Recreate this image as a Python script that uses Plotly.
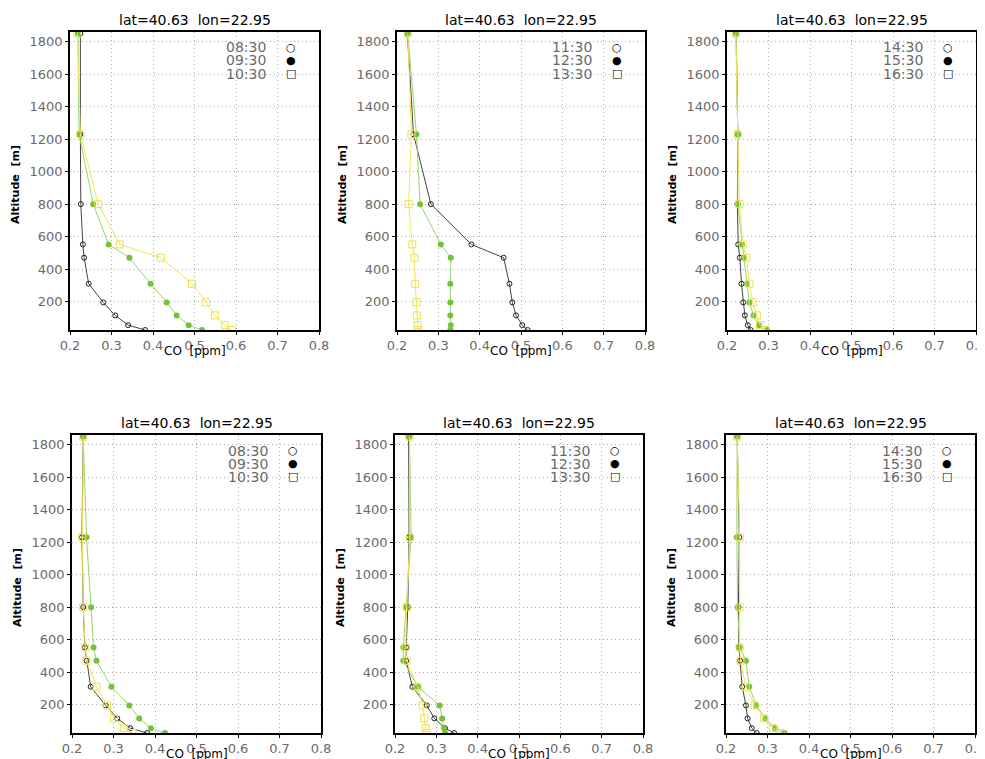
import plotly.graph_objects as go

# Model levels (m)
altitude = [25, 55, 115, 195, 310, 470, 552, 800, 1230, 1850]

# Time labels per column
times_col1 = ["08:30", "09:30", "10:30"]
times_col2 = ["11:30", "12:30", "13:30"]
times_col3 = ["14:30", "15:30", "16:30"]

# CO [ppm] - top row
tl_0830 = [0.381, 0.340, 0.309, 0.280, 0.245, 0.234, 0.231, 0.226, 0.225, 0.225]
tl_0930 = [0.518, 0.486, 0.457, 0.433, 0.394, 0.343, 0.293, 0.256, 0.222, 0.219]
tl_1030 = [0.590, 0.573, 0.549, 0.528, 0.494, 0.419, 0.320, 0.268, 0.225, 0.218]

tm_1130 = [0.516, 0.503, 0.488, 0.479, 0.472, 0.458, 0.380, 0.282, 0.240, 0.225]
tm_1230 = [0.329, 0.330, 0.329, 0.329, 0.329, 0.330, 0.306, 0.256, 0.247, 0.226]
tm_1330 = [0.251, 0.250, 0.248, 0.247, 0.244, 0.242, 0.237, 0.228, 0.235, 0.226]

tr_1430 = [0.257, 0.250, 0.243, 0.239, 0.235, 0.231, 0.227, 0.225, 0.226, 0.222]
tr_1530 = [0.297, 0.277, 0.264, 0.254, 0.248, 0.241, 0.236, 0.226, 0.226, 0.222]
tr_1630 = [0.293, 0.280, 0.272, 0.262, 0.254, 0.247, 0.238, 0.230, 0.226, 0.221]

# CO [ppm] - bottom row
bl_0830 = [0.381, 0.340, 0.309, 0.281, 0.245, 0.235, 0.231, 0.227, 0.224, 0.227]
bl_0930 = [0.424, 0.390, 0.362, 0.338, 0.295, 0.259, 0.252, 0.246, 0.235, 0.227]
bl_1030 = [0.346, 0.325, 0.301, 0.285, 0.259, 0.235, 0.232, 0.227, 0.225, 0.227]

bm_1130 = [0.343, 0.321, 0.295, 0.277, 0.242, 0.227, 0.227, 0.231, 0.234, 0.233]
bm_1230 = [0.321, 0.319, 0.314, 0.308, 0.255, 0.220, 0.220, 0.227, 0.239, 0.235]
bm_1330 = [0.276, 0.274, 0.271, 0.267, 0.255, 0.228, 0.226, 0.228, 0.236, 0.235]

br_1430 = [0.274, 0.262, 0.252, 0.248, 0.239, 0.234, 0.231, 0.230, 0.232, 0.227]
br_1530 = [0.341, 0.318, 0.295, 0.273, 0.256, 0.248, 0.233, 0.228, 0.226, 0.227]
br_1630 = [0.332, 0.313, 0.292, 0.269, 0.248, 0.235, 0.233, 0.233, 0.233, 0.227]

x_ticks = [0.2, 0.3, 0.4, 0.5, 0.6, 0.7, 0.8]
y_ticks = [200, 400, 600, 800, 1000, 1200, 1400, 1600, 1800]
title_text = "lat=40.63  lon=22.95"

# The page body has an 8px default margin; the figure is sized to fit the window.
OFF = 8
W, H = 985 - OFF, 759 - OFF
panels = [
    # (series, labels, x px range, y px range (top, bottom)) in window pixels
    ((tl_0830, tl_0930, tl_1030), times_col1, (70, 319), (32, 330)),
    ((tm_1130, tm_1230, tm_1330), times_col2, (397, 645), (32, 330)),
    ((tr_1430, tr_1530, tr_1630), times_col3, (727, 976), (32, 330)),
    ((bl_0830, bl_0930, bl_1030), times_col1, (72, 321), (435, 733)),
    ((bm_1130, bm_1230, bm_1330), times_col2, (395, 643), (435, 733)),
    ((br_1430, br_1530, br_1630), times_col3, (726, 975), (435, 733)),
]

styles = [
    dict(line=dict(color="#444444", width=1),
         marker=dict(symbol="circle-open", size=5, color="#222222", line=dict(width=1))),
    dict(line=dict(color="#98d46c", width=1),
         marker=dict(symbol="circle", size=6, color="#72c23c")),
    dict(line=dict(color="#f3e55a", width=1),
         marker=dict(symbol="square-open", size=7, color="#efe04a", line=dict(width=1))),
]
legend_syms = ["○", "●", "□"]


def px(x):
    return (x - OFF) / W


def py(y):
    return 1 - (y - OFF) / H


fig = go.Figure()
annotations = []
layout_axes = {}

for i, (series, labels, (x0, x1), (y0, y1)) in enumerate(panels):
    n = i + 1
    xa = "x" if n == 1 else f"x{n}"
    ya = "y" if n == 1 else f"y{n}"
    for s, st in zip(series, styles):
        fig.add_trace(go.Scatter(x=s, y=altitude, mode="lines+markers",
                                 xaxis=xa, yaxis=ya, showlegend=False,
                                 line=st["line"], marker=st["marker"]))
    xdom = [px(x0), min(px(x1), 1.0)]
    ydom = [py(y1), py(y0)]
    common = dict(showline=True, mirror=True, linecolor="black", linewidth=1.5,
                  ticks="outside", ticklen=3, tickcolor="black",
                  ticklabeloverflow="allow",
                  showgrid=True, gridcolor="#b0b0b0", griddash="1px,3px", gridwidth=1,
                  zeroline=False, tickfont=dict(family="DejaVu Sans", size=13, color="#6a6a6a"))
    layout_axes["xaxis" if n == 1 else f"xaxis{n}"] = dict(
        domain=xdom, range=[0.2, 0.8], tickvals=x_ticks, ticktext=[f"{v:.1f}" for v in x_ticks],
        anchor=ya, **common)
    layout_axes["yaxis" if n == 1 else f"yaxis{n}"] = dict(
        domain=ydom, range=[25, 1860], tickvals=y_ticks, anchor=xa, **common)

    cx = px((x0 + x1) / 2)
    # title
    annotations.append(dict(x=cx, y=py(y0 - 12), xref="paper", yref="paper",
                            text=title_text, showarrow=False,
                            font=dict(family="DejaVu Sans", size=14, color="black"),
                            xanchor="center", yanchor="middle"))
    # x title
    annotations.append(dict(x=cx, y=py(y1 + 21), xref="paper", yref="paper",
                            text="CO  [ppm]", showarrow=False,
                            font=dict(family="DejaVu Sans", size=12, color="black"),
                            xanchor="center", yanchor="middle"))
    # y title
    annotations.append(dict(x=px(x0 - 55), y=py((y0 + y1) / 2 + 4), xref="paper", yref="paper",
                            text="<b>Altitude  [m]</b>", showarrow=False, textangle=-90,
                            font=dict(family="DejaVu Sans", size=11, color="black"),
                            xanchor="center", yanchor="middle"))
    # legend
    for k, (lab, sym) in enumerate(zip(labels, legend_syms)):
        yy = y0 + 15.5 + 13 * k
        annotations.append(dict(x=px(x0 + 0.795 * (x1 - x0)), y=py(yy),
                                xref="paper", yref="paper", text=lab, showarrow=False,
                                font=dict(family="DejaVu Sans", size=14, color="#6a6a6a"),
                                xanchor="right", yanchor="middle"))
        annotations.append(dict(x=px(x0 + 0.886 * (x1 - x0)), y=py(yy),
                                xref="paper", yref="paper", text=sym, showarrow=False,
                                font=dict(family="DejaVu Sans", size=11, color="black"),
                                xanchor="center", yanchor="middle"))

fig.update_layout(width=W, height=H,
                  margin=dict(l=0, r=0, t=0, b=0, autoexpand=False),
                  paper_bgcolor="white", plot_bgcolor="white",
                  annotations=annotations, **layout_axes)

fig.write_html("out.html")
